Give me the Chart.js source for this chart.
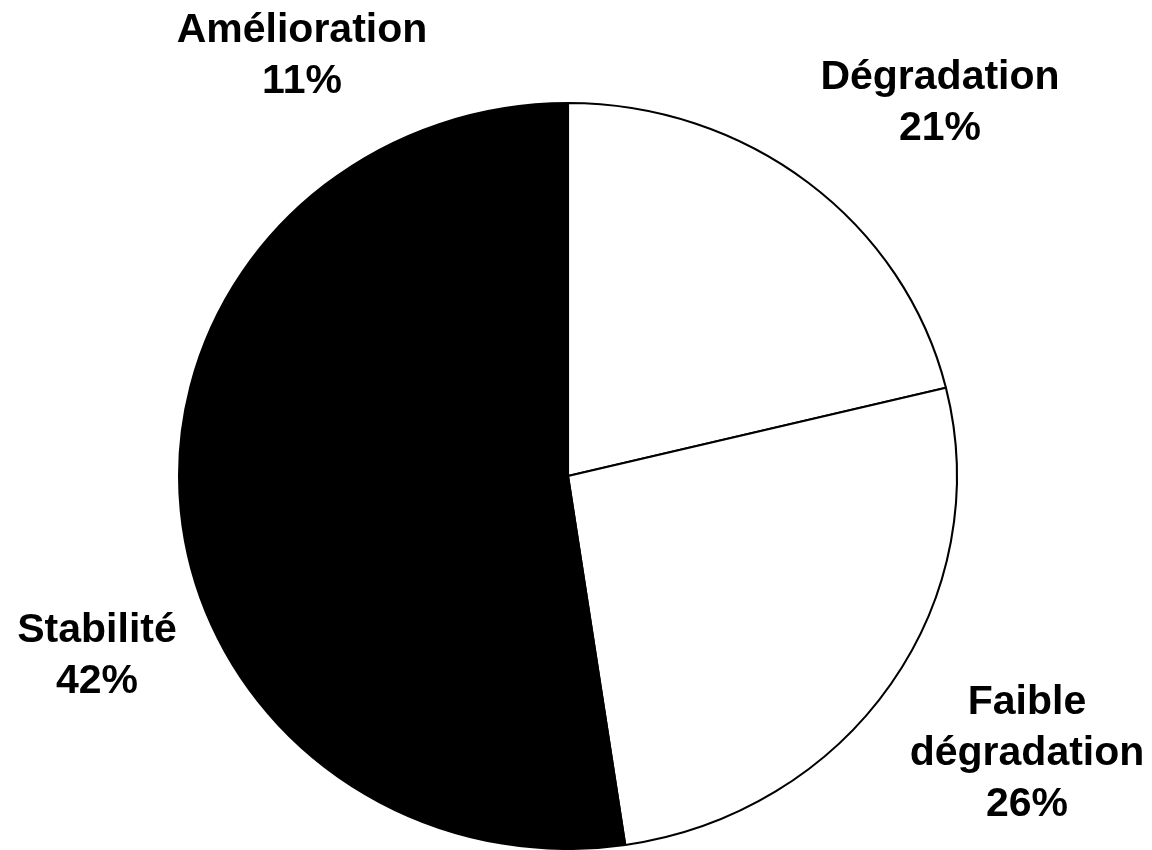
<!DOCTYPE html>
<html>
<head>
<meta charset="utf-8">
<script src="https://cdn.jsdelivr.net/npm/chart.js@4"></script>
<style>
  html, body { margin: 0; padding: 0; background: #fff; }
  #wrap { width: 1152px; height: 850px; }
</style>
</head>
<body>
<div id="wrap"><canvas id="pieChart" width="1152" height="850"></canvas></div>
<script>
// --- data (clockwise from 12 o'clock) ---
const categories = ["Dégradation", "Faible dégradation", "Stabilité", "Amélioration"];
const shares = [21.2, 26.45, 41.6, 10.75];
const sliceColors = ["#ffffff", "#ffffff", "#000000", "#000000"];

// label text lines per slice, and where each label block sits relative to the pie centre
const labelLines = [["Dégradation"], ["Faible", "dégradation"], ["Stabilité"], ["Amélioration"]];
const labelOffsets = [[372, -387], [459, 238], [-471, 166], [-266, -434]];

const X_STRETCH = 390 / 374; // pie is a bit wider than tall in the original

// stretch the pie horizontally around its centre
const stretchPlugin = {
    id: 'stretch',
    beforeDatasetsDraw(chart) {
        const arc = chart.getDatasetMeta(0).data[0];
        const ctx = chart.ctx;
        ctx.save();
        ctx.translate(arc.x, arc.y);
        ctx.scale(X_STRETCH, 1);
        ctx.translate(-arc.x, -arc.y);
    },
    afterDatasetsDraw(chart) { chart.ctx.restore(); }
};

// outside labels: name lines + rounded percentage
const labelPlugin = {
    id: 'outsideLabels',
    afterDraw(chart) {
        const ctx = chart.ctx;
        const arc = chart.getDatasetMeta(0).data[0];
        const total = shares.reduce((a, b) => a + b, 0);
        ctx.save();
        ctx.fillStyle = "#000";
        ctx.font = "bold 41px 'Liberation Sans', Arial, sans-serif";
        ctx.textAlign = "center";
        ctx.textBaseline = "alphabetic";
        const lh = 51;
        shares.forEach((v, i) => {
            const lines = labelLines[i].concat([Math.round(v / total * 100) + "%"]);
            const cx = arc.x + labelOffsets[i][0];
            const top = arc.y + labelOffsets[i][1];
            lines.forEach((t, k) => ctx.fillText(t, cx, top + k * lh));
        });
        ctx.restore();
    }
};

new Chart(document.getElementById('pieChart'), {
    type: 'pie',
    data: {
        labels: categories,
        datasets: [{
            data: shares,
            backgroundColor: sliceColors,
            borderColor: "#000",
            borderWidth: 2,
            borderAlign: 'center'
        }]
    },
    options: {
        responsive: false,
        animation: false,
        layout: { padding: { top: 102, bottom: 0, left: 0, right: 16 } },
        plugins: { legend: { display: false }, tooltip: { enabled: false } }
    },
    plugins: [stretchPlugin, labelPlugin]
});
</script>
</body>
</html>
